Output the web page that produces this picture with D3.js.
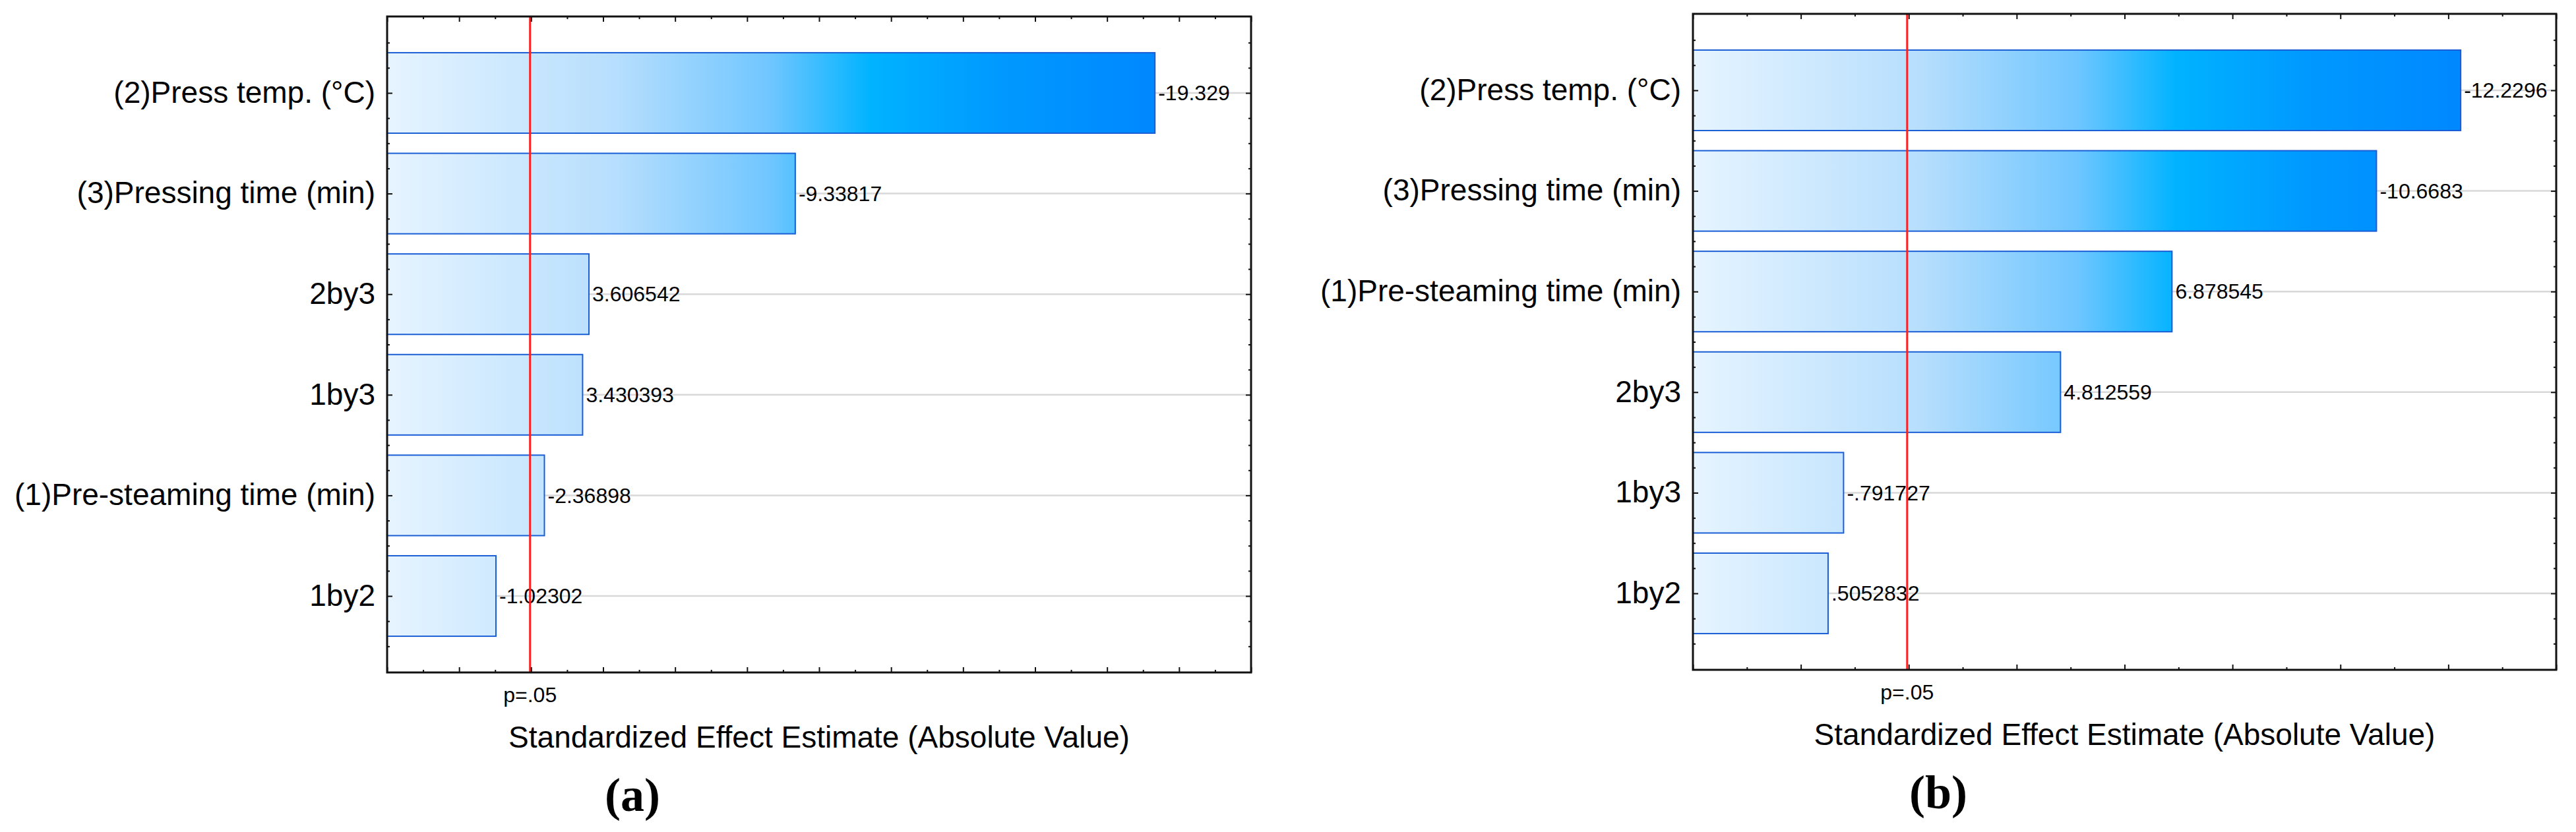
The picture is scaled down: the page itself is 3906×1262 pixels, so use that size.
<!DOCTYPE html>
<html>
<head>
<meta charset="utf-8">
<script src="https://cdn.jsdelivr.net/npm/d3@7"></script>
<style>
  body { margin: 0; background: #fff; }
  svg { display: block; }
  text { font-family: "Liberation Sans", Arial, sans-serif; fill: #000; }
</style>
</head>
<body>
<svg width="3906" height="1262"></svg>
<script>
// panel (a)
const catsA = ["(2)Press temp. (°C)", "(3)Pressing time (min)", "2by3", "1by3", "(1)Pre-steaming time (min)", "1by2"];
const effectsA = [-19.329, -9.33817, 3.606542, 3.430393, -2.36898, -1.02302];
const domainA = [-2, 22];
const critA = 1.97;

// panel (b)
const catsB = ["(2)Press temp. (°C)", "(3)Pressing time (min)", "(1)Pre-steaming time (min)", "2by3", "1by3", "1by2"];
const effectsB = [-12.2296, -10.6683, 6.878545, 4.812559, -0.791727, 0.5052832];
const domainB = [-2, 14];
const critB = 1.97;

const critLabel = "p=.05";
const xTitle = "Standardized Effect Estimate (Absolute Value)";

const svg = d3.select('svg');
const defs = svg.append('defs');

// statistica style number: drop the leading zero
const fmt = v => String(v).replace(/^(-?)0\./, '$1.');

function panel(id, tag, cats, effects, domain, crit, box) {
  const g = svg.append('g');
  const x = d3.scaleLinear().domain(domain).range([box.left, box.right]);
  const y = d3.scaleBand().domain(cats).range([box.top, box.bottom])
    .paddingInner(0.2).paddingOuter(0.36);
  const yc = c => y(c) + y.bandwidth() / 2;
  const maxAbs = d3.max(effects, Math.abs);

  const grad = defs.append('linearGradient')
    .attr('id', id)
    .attr('gradientUnits', 'userSpaceOnUse')
    .attr('x1', x(domain[0])).attr('x2', x(maxAbs))
    .attr('y1', 0).attr('y2', 0);
  [[0, '#e6f4ff'], [0.3, '#b6defd'], [0.5, '#6fc6ff'], [0.63, '#00b3ff'], [0.8, '#0099ff'], [1, '#0088ff']]
    .forEach(([o, c]) => grad.append('stop').attr('offset', o).attr('stop-color', c));

  // grid lines
  g.selectAll('line.grid')
    .data(cats)
    .join('line')
    .attr('x1', box.left).attr('x2', box.right)
    .attr('y1', yc).attr('y2', yc)
    .attr('stroke', '#d8d8d8')
    .attr('stroke-width', 2.5);

  // bars
  g.selectAll('rect.bar')
    .data(effects)
    .join('rect')
    .attr('x', x(domain[0]))
    .attr('y', (d, i) => y(cats[i]))
    .attr('width', d => x(Math.abs(d)) - x(domain[0]))
    .attr('height', y.bandwidth())
    .attr('fill', `url(#${id})`)
    .attr('stroke', '#1a5ed6')
    .attr('stroke-width', 2);

  // value labels
  g.selectAll('text.val')
    .data(effects)
    .join('text')
    .attr('x', d => x(Math.abs(d)) + 5)
    .attr('y', (d, i) => yc(cats[i]))
    .attr('dy', '0.35em')
    .attr('font-size', 32)
    .text(fmt);

  // category labels
  g.selectAll('text.cat')
    .data(cats)
    .join('text')
    .attr('x', box.left - 18)
    .attr('y', yc)
    .attr('dy', '0.32em')
    .attr('text-anchor', 'end')
    .attr('font-size', 46)
    .text(d => d);

  // critical value line
  g.append('line')
    .attr('x1', x(crit)).attr('x2', x(crit))
    .attr('y1', box.top).attr('y2', box.bottom)
    .attr('stroke', '#ff2020')
    .attr('stroke-width', 3);

  // inward ticks on all four sides
  const majorX = d3.range(domain[0], domain[1] + 0.01, 2);
  const minorX = d3.range(domain[0] + 1, domain[1], 2);
  const yi = d3.scaleLinear().domain([0, cats.length - 1]).range([yc(cats[0]), yc(cats[cats.length - 1])]);
  const majorY = d3.range(0, cats.length);
  const minorY = d3.range(-0.75, cats.length - 0.25 + 0.01, 0.25)
    .filter(v => v % 1 !== 0 && yi(v) > box.top + 2 && yi(v) < box.bottom - 2);

  const axes = [
    [d3.axisBottom(x), majorX, minorX, `translate(0,${box.bottom})`],
    [d3.axisTop(x), majorX, minorX, `translate(0,${box.top})`],
    [d3.axisLeft(yi), majorY, minorY, `translate(${box.left},0)`],
    [d3.axisRight(yi), majorY, minorY, `translate(${box.right},0)`]
  ];
  axes.forEach(([ax, maj, min, tr]) => {
    [[maj, -8], [min, -4]].forEach(([vals, len]) => {
      const a = g.append('g')
        .attr('transform', tr)
        .call(ax.tickValues(vals).tickSize(len).tickFormat(''));
      a.select('.domain').remove();
      a.selectAll('line').attr('stroke', '#111').attr('stroke-width', 2);
    });
  });

  // frame
  g.append('rect')
    .attr('x', box.left).attr('y', box.top)
    .attr('width', box.right - box.left).attr('height', box.bottom - box.top)
    .attr('fill', 'none')
    .attr('stroke', '#111')
    .attr('stroke-width', 3);

  g.append('text')
    .attr('x', x(crit))
    .attr('y', box.bottom + 45)
    .attr('text-anchor', 'middle')
    .attr('font-size', 32)
    .text(critLabel);

  g.append('text')
    .attr('x', (box.left + box.right) / 2)
    .attr('y', box.bottom + 114)
    .attr('text-anchor', 'middle')
    .attr('font-size', 46)
    .text(xTitle);

  g.append('text')
    .attr('x', box.left + 372)
    .attr('y', box.bottom + 210)
    .attr('text-anchor', 'middle')
    .attr('font-size', 72)
    .attr('font-weight', 'bold')
    .style('font-family', '"Liberation Serif", "Times New Roman", serif')
    .text(tag);
}

panel('gradA', '(a)', catsA, effectsA, domainA, critA, { left: 587, right: 1897, top: 25, bottom: 1020 });
panel('gradB', '(b)', catsB, effectsB, domainB, critB, { left: 2567, right: 3876, top: 21, bottom: 1016 });
</script>
</body>
</html>
